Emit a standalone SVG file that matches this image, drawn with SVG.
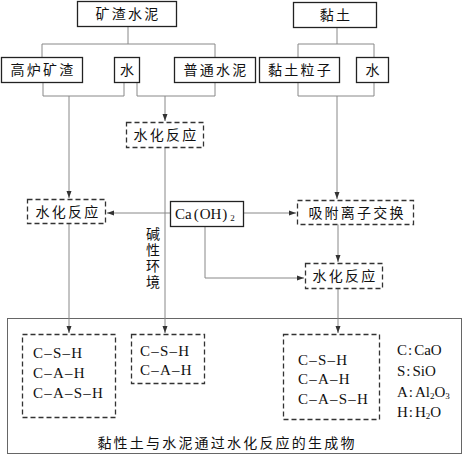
<svg xmlns="http://www.w3.org/2000/svg" width="463" height="455" viewBox="0 0 463 455">
<style>
.solid{fill:#fff;stroke:#222;stroke-width:1.3}
.dash{fill:#fff;stroke:#333;stroke-width:1.3;stroke-dasharray:5 3}
.outer{fill:none;stroke:#666;stroke-width:1}
.ln{fill:none;stroke:#888;stroke-width:1}
.cn{font-family:"Noto Sans CJK SC","Noto Sans CJK JP",sans-serif;font-size:14px;fill:#111;letter-spacing:2.2px;text-anchor:middle}
.lat{font-family:"Liberation Serif","DejaVu Serif",serif;font-size:15px;fill:#111}
.prod{letter-spacing:1.2px}
.sub{font-size:9px}
</style>
<defs>
<marker id="ar" markerWidth="8" markerHeight="6" refX="7" refY="3" orient="auto" markerUnits="userSpaceOnUse">
<path d="M0,0.5 L7,3 L0,5.5 Z" fill="#333"/>
</marker>
</defs>
<rect class="outer" x="7.5" y="318.5" width="454" height="135"/>
<g id="connectors">
<path class="ln" d="M128,26 V44 M42,44 H215 M42,44 V57 M215,44 V57"/>
<path class="ln" d="M43,83 V96 H124 V83 M137,83 V96 H215 V83"/>
<path class="ln" d="M337,28 V44 M298,44 H374 M298,44 V57 M374,44 V57"/>
<path class="ln" d="M298,82 V96 H374 V82"/>
<path class="ln" d="M69,96 V198" marker-end="url(#ar)"/>
<path class="ln" d="M165,96 V121" marker-end="url(#ar)"/>
<path class="ln" d="M337,96 V199" marker-end="url(#ar)"/>
<path class="ln" d="M170,213 H107" marker-end="url(#ar)"/>
<path class="ln" d="M244,213 H296" marker-end="url(#ar)"/>
<path class="ln" d="M205,227 V278 H304" marker-end="url(#ar)"/>
<path class="ln" d="M338,224 V262" marker-end="url(#ar)"/>
<path class="ln" d="M69,223 V333" marker-end="url(#ar)"/>
<path class="ln" d="M165,147 V333" marker-end="url(#ar)"/>
<path class="ln" d="M338,288 V333" marker-end="url(#ar)"/>
</g>
<g id="n-kzsn"><rect class="solid" x="77.5" y="1.5" width="99" height="25"/><text class="cn" x="128" y="19">矿渣水泥</text></g>
<g id="n-nt"><rect class="solid" x="293.5" y="2.5" width="83" height="25"/><text class="cn" x="336" y="20">黏土</text></g>
<g id="n-glkz"><rect class="solid" x="1.5" y="57.5" width="81" height="25"/><text class="cn" x="43" y="75">高炉矿渣</text></g>
<g id="n-s1"><rect class="solid" x="114.5" y="57.5" width="25" height="25"/><text class="cn" x="128" y="75">水</text></g>
<g id="n-ptsn"><rect class="solid" x="174.5" y="57.5" width="81" height="25"/><text class="cn" x="216" y="75">普通水泥</text></g>
<g id="n-ntlz"><rect class="solid" x="259.5" y="57.5" width="80" height="25"/><text class="cn" x="300.5" y="75">黏土粒子</text></g>
<g id="n-s2"><rect class="solid" x="356.5" y="57.5" width="32" height="25"/><text class="cn" x="373.5" y="75">水</text></g>
<g id="n-shfy1"><rect class="dash" x="126.5" y="122.5" width="77" height="25"/><text class="cn" x="166" y="140">水化反应</text></g>
<g id="n-shfy2"><rect class="dash" x="27.5" y="199.5" width="78" height="24"/><text class="cn" x="68" y="216.5">水化反应</text></g>
<g id="n-caoh"><rect class="solid" x="170.5" y="201.5" width="73" height="25"/><text class="lat" x="175" y="219">Ca<tspan dx="2">(</tspan><tspan dx="1">OH</tspan><tspan dx="1">)</tspan><tspan class="sub" dx="3" dy="2">2</tspan></text></g>
<g id="n-xf"><rect class="dash" x="297.5" y="200.5" width="116" height="24"/><text class="cn" x="357" y="217.5">吸附离子交换</text></g>
<g id="n-shfy3"><rect class="dash" x="305.5" y="263.5" width="77" height="25"/><text class="cn" x="345" y="281">水化反应</text></g>
<text id="label-jx" x="153" y="227" font-family="Noto Sans CJK SC,Noto Sans CJK JP,sans-serif" font-size="14" fill="#111" letter-spacing="2" writing-mode="vertical-rl" style="writing-mode:vertical-rl">碱性环境</text>
<g id="n-p1"><rect class="dash" x="22.5" y="334.5" width="93" height="83"/>
<text class="lat prod" x="33" y="358">C–S–H</text><text class="lat prod" x="33" y="378">C–A–H</text><text class="lat prod" x="33" y="398">C–A–S–H</text></g>
<g id="n-p2"><rect class="dash" x="131.5" y="334.5" width="73" height="49"/>
<text class="lat prod" x="140" y="356">C–S–H</text><text class="lat prod" x="140" y="375">C–A–H</text></g>
<g id="n-p3"><rect class="dash" x="283.5" y="334.5" width="96" height="85"/>
<text class="lat prod" x="298" y="365">C–S–H</text><text class="lat prod" x="298" y="384">C–A–H</text><text class="lat prod" x="298" y="404">C–A–S–H</text></g>
<g id="legend">
<text class="lat" x="397" y="355">C<tspan dx="1">:</tspan><tspan dx="2">CaO</tspan></text>
<text class="lat" x="397" y="376">S<tspan dx="1">:</tspan><tspan dx="2">SiO</tspan></text>
<text class="lat" x="397" y="397">A<tspan dx="1">:</tspan><tspan dx="2">Al</tspan><tspan class="sub" dy="2">2</tspan><tspan dy="-2">O</tspan><tspan class="sub" dy="2">3</tspan></text>
<text class="lat" x="397" y="417">H<tspan dx="1">:</tspan><tspan dx="2">H</tspan><tspan class="sub" dy="2">2</tspan><tspan dy="-2">O</tspan></text>
</g>
<text class="cn" letter-spacing="1.7" x="227" y="448">黏性土与水泥通过水化反应的生成物</text>
</svg>
